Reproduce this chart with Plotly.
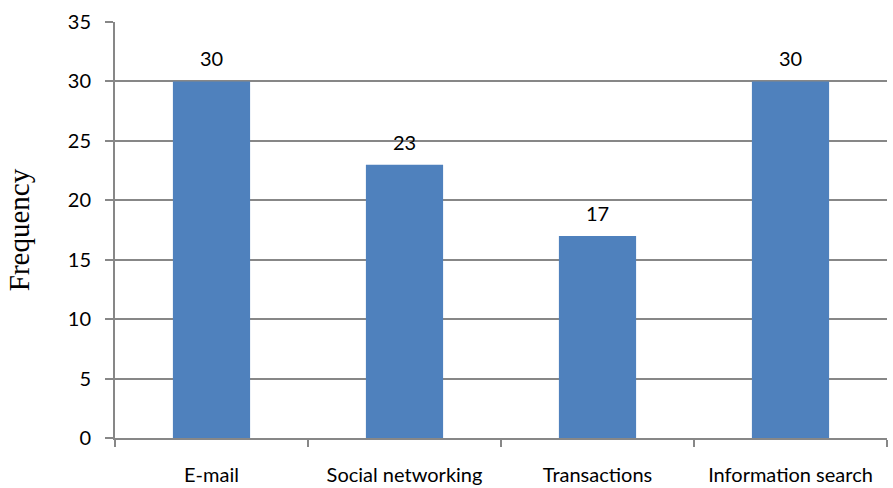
import plotly.graph_objects as go

categories = ["E-mail", "Social networking", "Transactions", "Information search"]
frequency = [30, 23, 17, 30]
y_ticks = [0, 5, 10, 15, 20, 25, 30, 35]

bar_color = "#4F81BD"
grid_color = "#878787"
label_font = dict(family="Lato, Open Sans, sans-serif", size=20, color="#000000")

fig = go.Figure(
    go.Bar(
        x=categories,
        y=frequency,
        marker=dict(color=bar_color, line=dict(width=0)),
        width=0.4,
    )
)

# value labels floating above each bar
for cat, val in zip(categories, frequency):
    fig.add_annotation(
        x=cat, y=val, text=str(val), showarrow=False,
        yanchor="bottom", yshift=9, font=label_font,
    )

fig.update_layout(
    width=893, height=488,
    margin=dict(l=115, r=6, t=22, b=50),
    paper_bgcolor="white", plot_bgcolor="white",
    showlegend=False,
    bargap=0.6,
)

fig.update_xaxes(
    type="category",
    automargin=False,
    showline=True, linecolor=grid_color, linewidth=2,
    ticks="outside", tickson="boundaries", ticklen=7,
    tickcolor=grid_color, tickwidth=2,
    tickfont=label_font,
    ticklabelstandoff=18,
    showgrid=False,
)

fig.update_yaxes(
    range=[0, 35],
    tickvals=y_ticks,
    automargin=False,
    showline=True, linecolor=grid_color, linewidth=2,
    ticks="outside", ticklen=8, tickcolor=grid_color, tickwidth=2,
    ticklabelstandoff=10,
    showgrid=True, gridcolor=grid_color, gridwidth=2,
    zeroline=False,
    tickfont=label_font,
    title=dict(text="Frequency", font=dict(family="Liberation Serif, Times New Roman, serif", size=29, color="#000000"), standoff=30),
)

fig.write_html("out.html")
